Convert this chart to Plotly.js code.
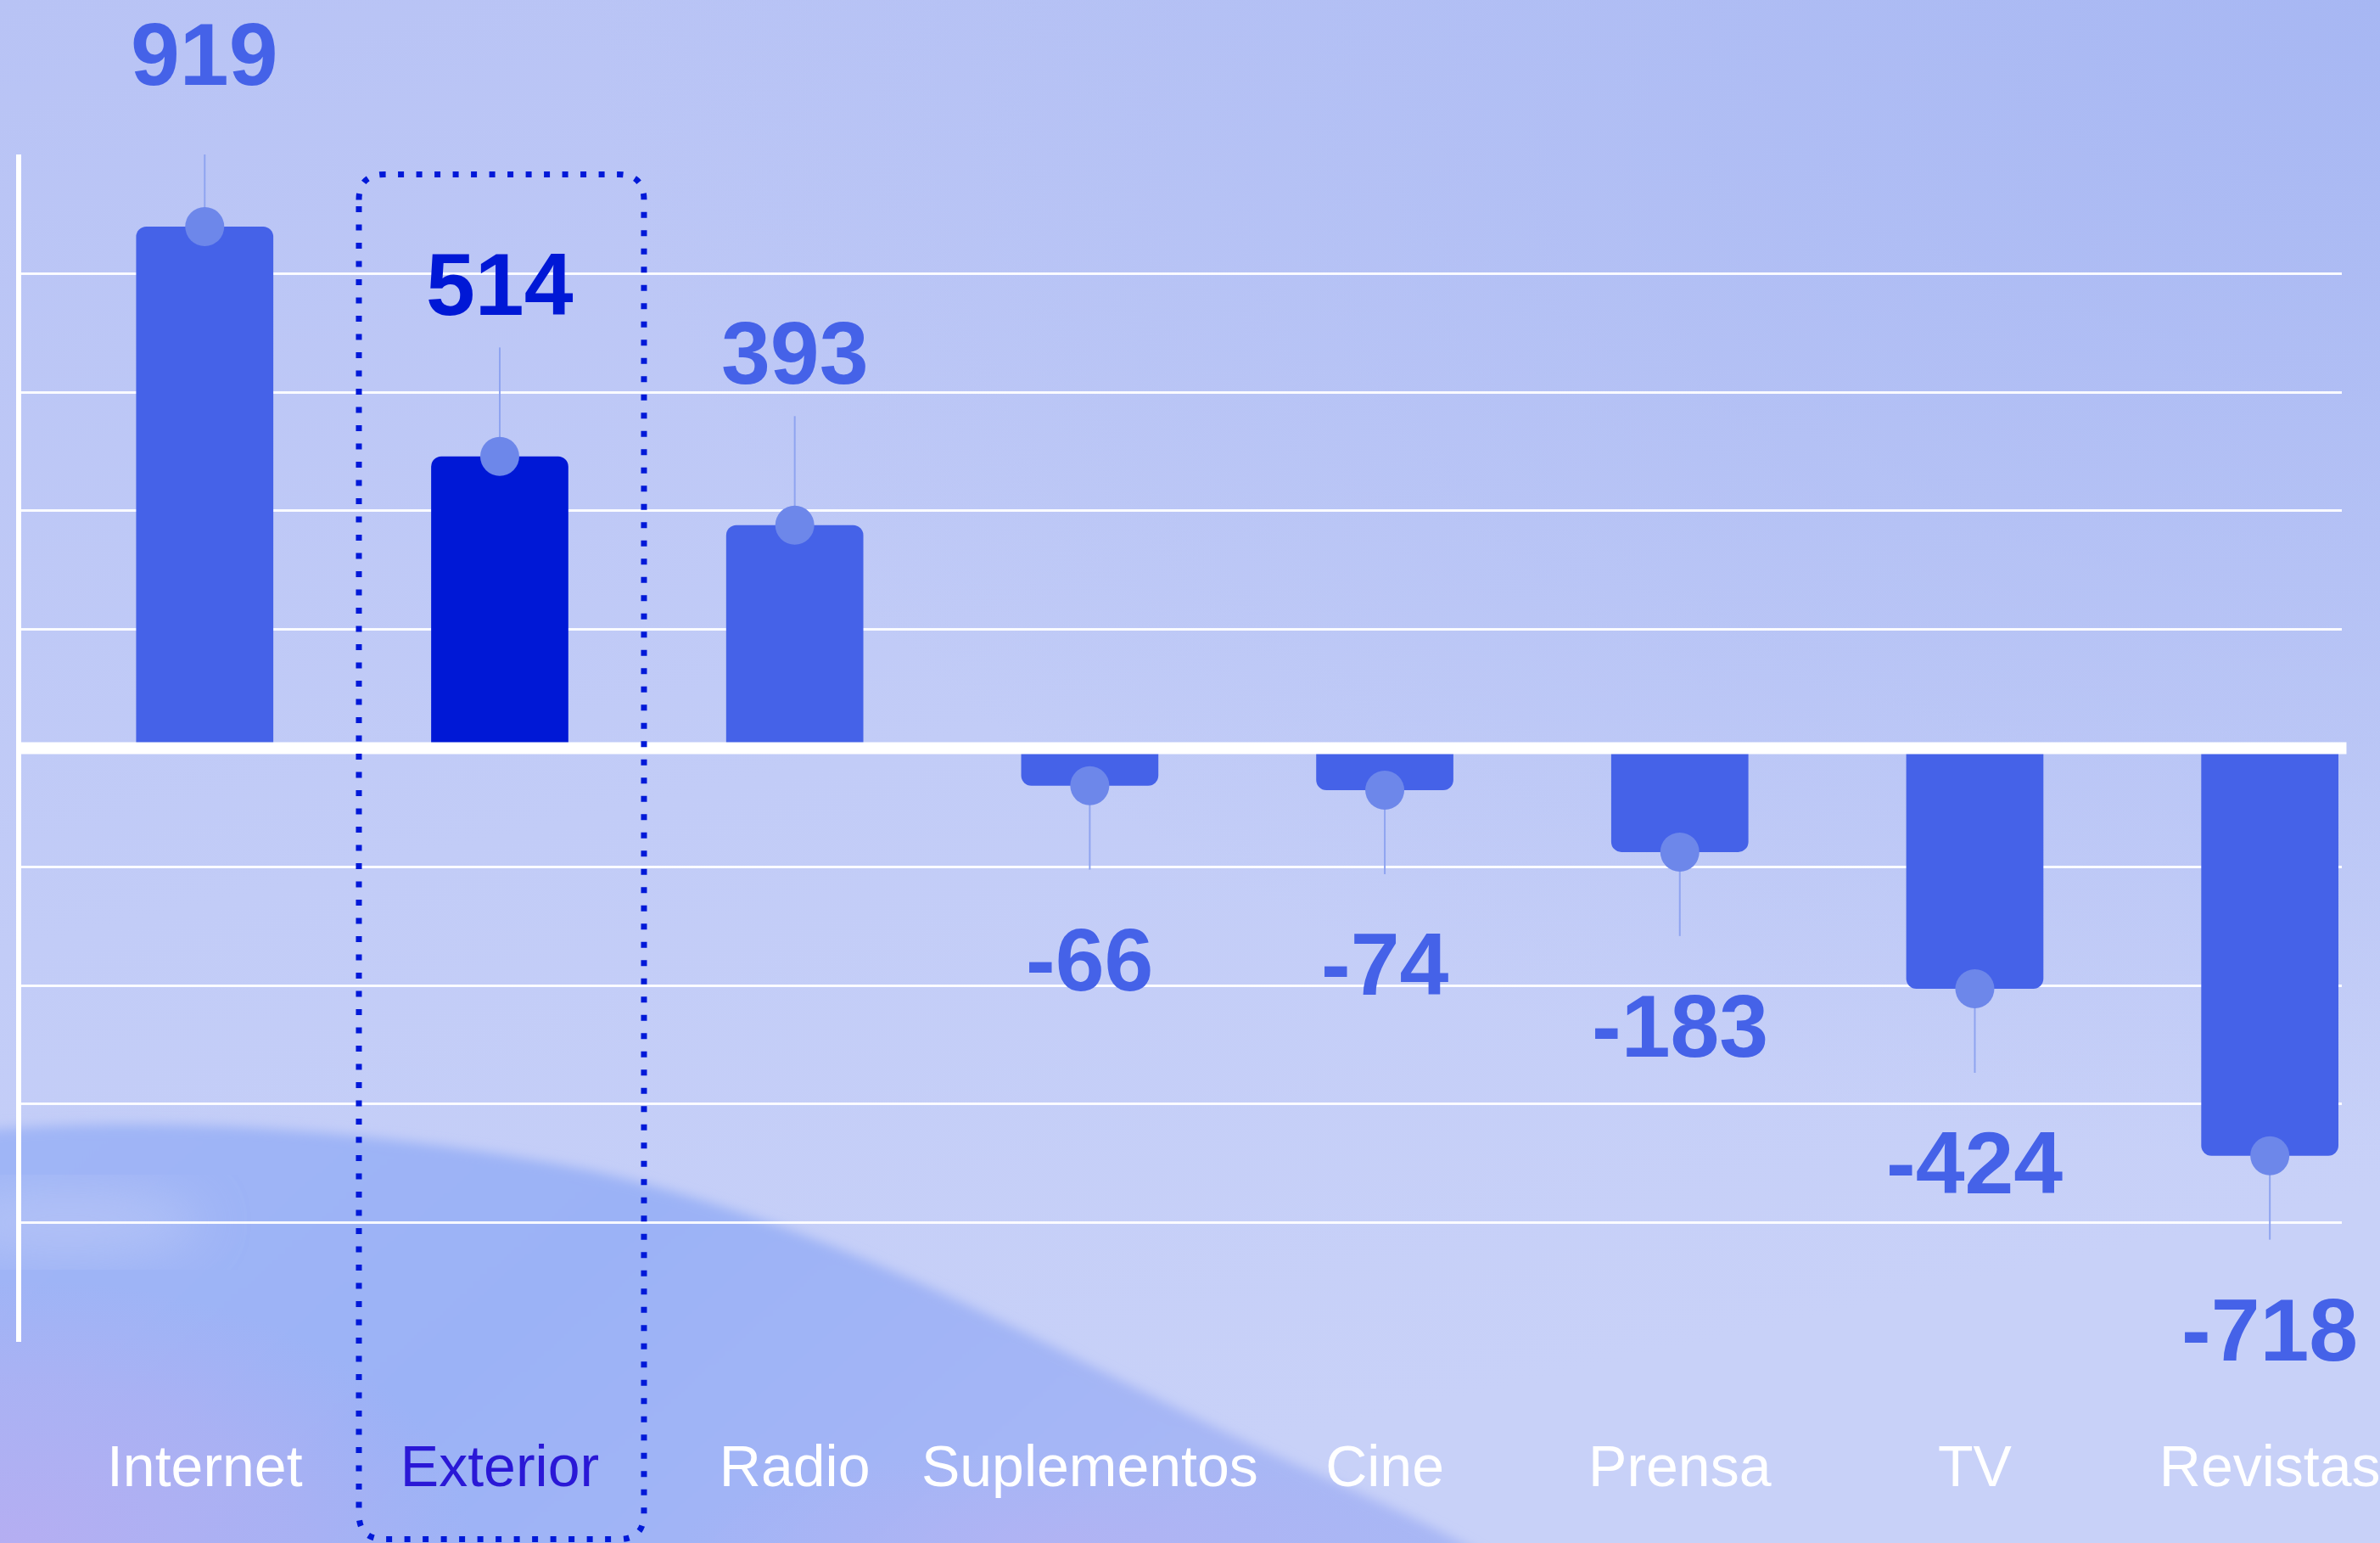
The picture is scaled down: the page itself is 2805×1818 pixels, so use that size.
<!DOCTYPE html>
<html>
<head>
<meta charset="utf-8">
<script src="https://cdn.plot.ly/plotly-3.0.1.min.js"></script>
<style>
  html, body { margin:0; padding:0; width:2805px; height:1818px; overflow:hidden; }
  #wrap { position:relative; width:2805px; height:1818px; }
  #bg { position:absolute; left:0; top:0; }
  #chart { position:absolute; left:0; top:0; width:2805px; height:1818px; }
</style>
</head>
<body>
<div id="wrap">
<svg id="bg" width="2805" height="1818" xmlns="http://www.w3.org/2000/svg">
  <defs>
    <linearGradient id="base" x1="0" y1="0" x2="0.35" y2="1">
      <stop offset="0" stop-color="#B8C3F5"/>
      <stop offset="0.55" stop-color="#C2CCF7"/>
      <stop offset="1" stop-color="#C8D1F8"/>
    </linearGradient>
    <radialGradient id="tr" cx="1" cy="0" r="0.75">
      <stop offset="0" stop-color="#A7B7F3" stop-opacity="1"/>
      <stop offset="1" stop-color="#A7B7F3" stop-opacity="0"/>
    </radialGradient>
    <linearGradient id="wave" x1="0" y1="0" x2="1" y2="0.3">
      <stop offset="0" stop-color="#A1B6F6"/>
      <stop offset="0.5" stop-color="#9BB2F6"/>
      <stop offset="1" stop-color="#A8B7F5"/>
    </linearGradient>
    <radialGradient id="purp" cx="0.02" cy="1" r="0.6">
      <stop offset="0" stop-color="#B5AEF2" stop-opacity="1"/>
      <stop offset="0.6" stop-color="#B2B0F2" stop-opacity="0.6"/>
      <stop offset="1" stop-color="#B2B0F2" stop-opacity="0"/>
    </radialGradient>
    <radialGradient id="purp2" cx="0.5" cy="1" r="0.5">
      <stop offset="0" stop-color="#B3B2F3" stop-opacity="0.8"/>
      <stop offset="1" stop-color="#B3B2F3" stop-opacity="0"/>
    </radialGradient>
    <filter id="blur" x="-10%" y="-10%" width="120%" height="120%">
      <feGaussianBlur stdDeviation="7"/>
    </filter>
    <filter id="blur2" x="-20%" y="-20%" width="140%" height="140%">
      <feGaussianBlur stdDeviation="30"/>
    </filter>
  </defs>
  <rect x="0" y="0" width="2805" height="1818" fill="url(#base)"/>
  <rect x="0" y="0" width="2805" height="1818" fill="url(#tr)"/>
  <path d="M -200,1360 C 0,1310 350,1310 700,1380 C 1000,1450 1200,1570 1450,1690 C 1600,1760 1700,1800 1760,1840 L -200,1840 Z" fill="url(#wave)" filter="url(#blur)"/>
  <ellipse cx="80" cy="1440" rx="160" ry="40" fill="#BFCBF7" opacity="0.6" filter="url(#blur2)"/>
  <rect x="0" y="1300" width="900" height="518" fill="url(#purp)"/>
  <rect x="800" y="1600" width="900" height="218" fill="url(#purp2)"/>
</svg>
<div id="chart"></div>
</div>
<script>
// ---- data ----
const categories = ["Internet", "Exterior", "Radio", "Suplementos", "Cine", "Prensa", "TV", "Revistas"];
const values = [919, 514, 393, -66, -74, -183, -424, -718];
const highlight = "Exterior";
const labelTexts = values.map(v => String(v));

// ---- style ----
const BAR = "#4562E8";
const BAR_HI = "#0018D6";
const DOT = "#6D87EA";
const STEM = "#8FA4F0";
const HI_TEXT = "#2A18D6";
const Y_EXTENT = 1045;   // symmetric axis extent
const GRID_STEP = 209;   // five grid bands each side

const hiIndex = categories.indexOf(highlight);
const barColors = categories.map(c => c === highlight ? BAR_HI : BAR);
const labelColors = categories.map(c => c === highlight ? BAR_HI : BAR);
const tickText = categories.map(c => c === highlight
  ? '<span style="color:' + HI_TEXT + '">' + c + '</span>' : c);

const bars = {
  type: "bar",
  x: categories,
  y: values,
  width: 0.465,
  marker: { color: barColors, cornerradius: 12, line: { width: 0 } },
  hoverinfo: "skip",
  cliponaxis: false
};

const dots = {
  type: "scatter",
  mode: "markers",
  x: categories,
  y: values,
  marker: { size: 46, color: DOT, line: { width: 0 } },
  error_y: {
    type: "data",
    symmetric: false,
    array: values.map(v => v > 0 ? 192 : 0),
    arrayminus: values.map(v => v < 0 ? 148 : 0),
    width: 0,
    thickness: 2,
    color: STEM
  },
  hoverinfo: "skip",
  cliponaxis: false
};

const annotations = categories.map((c, i) => ({
  x: c, y: values[i], xref: "x", yref: "y",
  text: labelTexts[i],
  showarrow: false,
  xanchor: "center", yanchor: "middle",
  yshift: values[i] > 0 ? 203 : -205,
  font: { family: "Liberation Sans, Arial, sans-serif", size: 104, color: labelColors[i], weight: "bold" }
}));

// rounded dotted frame around the highlighted category (pixel path anchored at category / zero line)
const L = -166, R = 170, T = 676, B = -932, r = 30;
const framePath = [
  "M", L, T - r, "Q", L, T, L + r, T,
  "L", R - r, T, "Q", R, T, R, T - r,
  "L", R, B + r, "Q", R, B, R - r, B,
  "L", L + r, B, "Q", L, B, L, B + r, "Z"
].join(" ");

const shapes = [
  { type: "line", xref: "paper", yref: "y", x0: 0, x1: 1.002, y0: 0, y1: 0,
    line: { color: "#FFFFFF", width: 14 }, layer: "above" },
  { type: "path", xref: "x", yref: "paper", xsizemode: "pixel", ysizemode: "pixel",
    xanchor: hiIndex, yanchor: 0.5, path: framePath,
    line: { color: "#0019D8", width: 7, dash: "7px,14.5px" }, layer: "above" }
];

const layout = {
  width: 2805, height: 1818,
  margin: { l: 25, r: 45, t: 182, b: 237, pad: 0 },
  paper_bgcolor: "rgba(0,0,0,0)",
  plot_bgcolor: "rgba(0,0,0,0)",
  showlegend: false,
  hovermode: false,
  xaxis: {
    type: "category",
    categoryorder: "array", categoryarray: categories,
    range: [-0.622, 7.244],
    showgrid: false, zeroline: false, showline: false, ticks: "",
    tickvals: categories, ticktext: tickText,
    tickfont: { family: "Liberation Sans, Arial, sans-serif", size: 68, color: "#FFFFFF" },
    ticklabelstandoff: 101,
    fixedrange: true
  },
  yaxis: {
    range: [-Y_EXTENT - 1, Y_EXTENT + 1],
    tick0: 0, dtick: GRID_STEP,
    showticklabels: false, ticks: "",
    showgrid: true, gridcolor: "rgba(255,255,255,0.92)", gridwidth: 3,
    zeroline: false,
    showline: true, linecolor: "#FFFFFF", linewidth: 6,
    fixedrange: true
  },
  shapes: shapes,
  annotations: annotations
};

Plotly.newPlot("chart", [bars, dots], layout, { displayModeBar: false, staticPlot: true });
</script>
</body>
</html>
